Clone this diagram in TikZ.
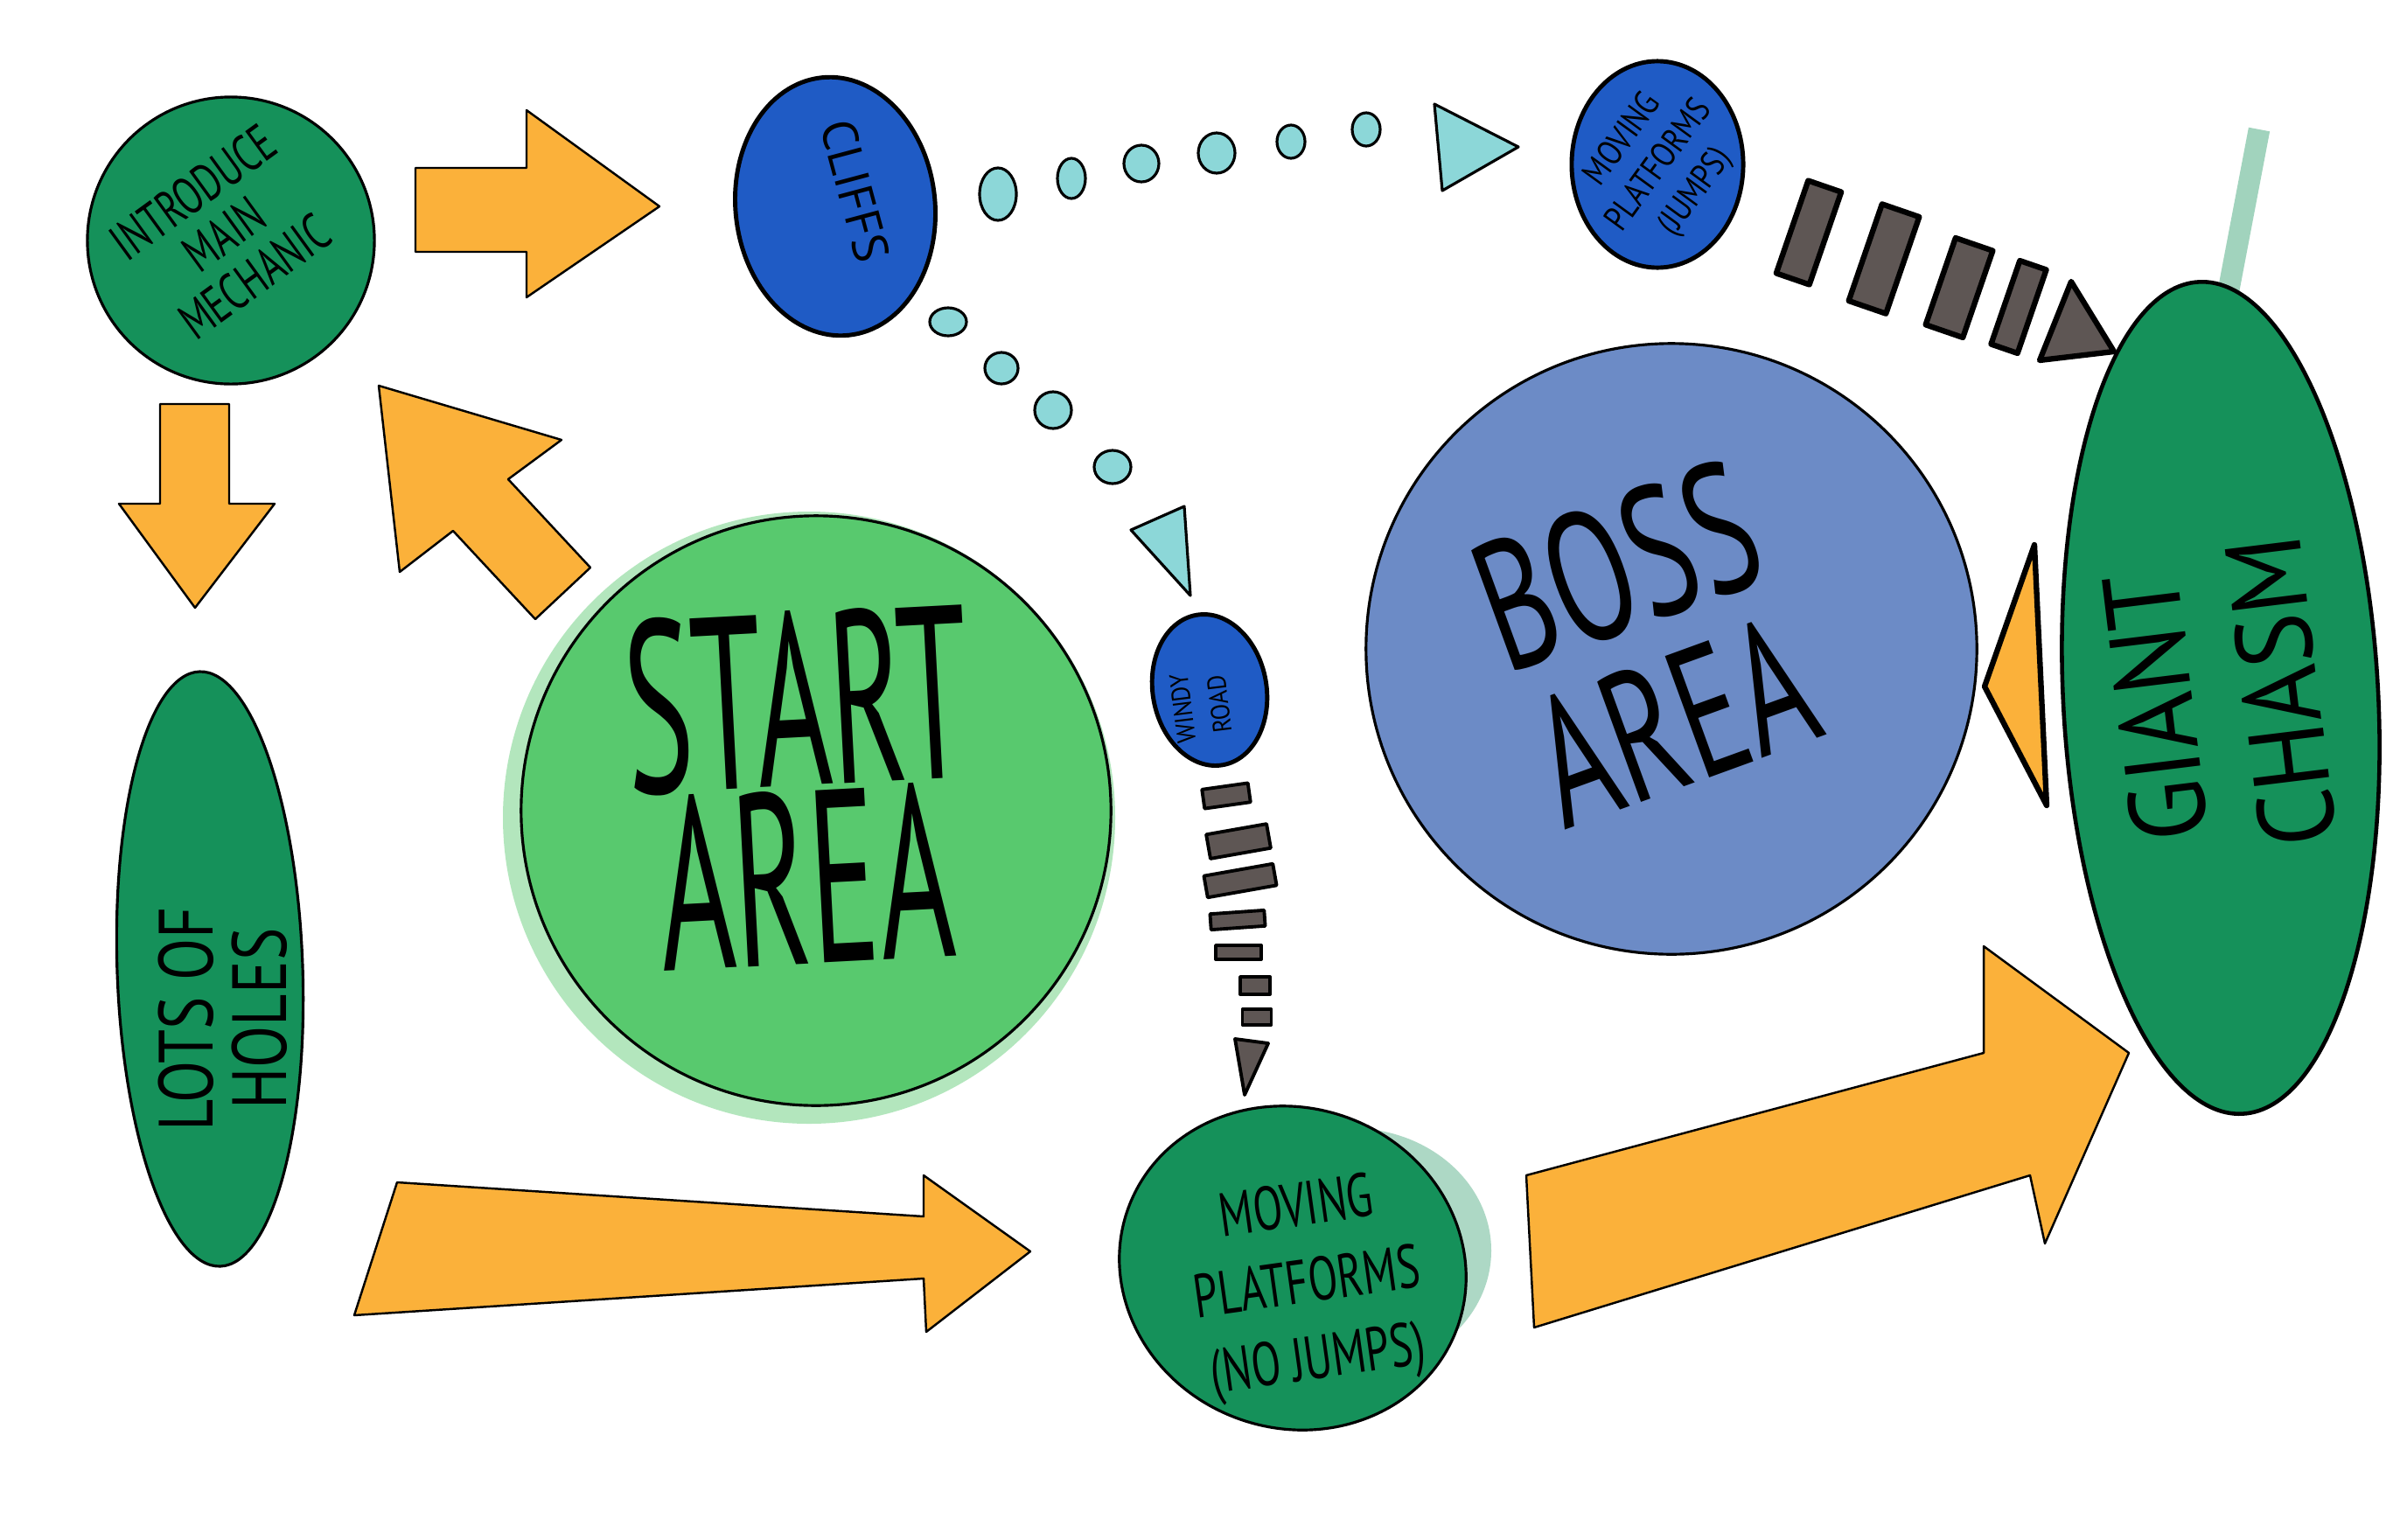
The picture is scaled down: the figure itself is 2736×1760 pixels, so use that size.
\documentclass[tikz,border=0pt]{standalone}
\usepackage{fontspec}
\setmainfont{PT Sans}
\usepackage{graphicx}
\usetikzlibrary{shapes.geometric}

\definecolor{zonegreen}{HTML}{15915A}
\definecolor{startgreen}{HTML}{58C96E}
\definecolor{cliffblue}{HTML}{1F5BC5}
\definecolor{bossblue}{HTML}{6C8BC6}
\definecolor{arroworange}{HTML}{FBB13A}
\definecolor{dotteal}{HTML}{8CD7D8}
\definecolor{bargray}{HTML}{5E5654}

\newcommand{\scrawlstack}[1]{\vbox{\let\\\cr\halign{\hfil##\hfil\cr#1\crcr}}}
\newcommand{\scrawl}[2]{\scalebox{#1}[1]{\scrawlstack{#2}}}

\begin{document}
\begin{tikzpicture}[x=0.01cm, y=-0.01cm,
  every node/.style={inner sep=0pt},
  zone/.style={draw, line width=0.9pt},
  spot/.style={draw, ellipse, line width=1.4pt, fill=cliffblue},
  hand/.style 2 args={font=\fontsize{#1}{#2}\selectfont},
  pebble/.style={draw, fill=dotteal, line width=0.9pt, line join=round},
  brick/.style={draw, fill=bargray, line width=#1, line join=round},
  fat/.style={draw, fill=arroworange, line width=0.7pt, line join=round}]

\useasboundingbox (0,0) rectangle (2736,1760);
\fill[white] (0,0) rectangle (2736,1760);
\fill[startgreen, opacity=0.45] (925,935) circle (350);
\fill[zonegreen, opacity=0.35] (1545,1430) ellipse (160 and 140);
\draw[line width=7pt, zonegreen!40] (2583,148) -- (2548,332);

\node[zone, circle, fill=zonegreen, minimum size=3.28cm] (intro) at (264,275) {};
\node[zone, ellipse, fill=zonegreen, minimum width=2.12cm, minimum height=6.8cm, rotate=2] (holes) at (240,1108) {};
\node[zone, circle, fill=startgreen, minimum size=6.74cm] (start) at (933,927) {};
\node[spot, minimum width=2.28cm, minimum height=2.96cm, rotate=6] (cliffs) at (955,236) {};
\node[spot, minimum width=1.96cm, minimum height=2.36cm] (jumps) at (1895,188) {};
\node[spot, minimum width=1.3cm, minimum height=1.74cm, rotate=10] (windy) at (1383,789) {};
\node[zone, ellipse, fill=zonegreen, minimum width=4cm, minimum height=3.66cm, rotate=-20] (nojumps) at (1478,1450) {};
\node[zone, circle, fill=bossblue, minimum size=6.98cm] (boss) at (1911,742) {};
\node[zone, ellipse, fill=zonegreen, line width=1.3pt, minimum width=3.6cm, minimum height=9.52cm, rotate=3] (chasm) at (2539,798) {};

\node[hand={17}{17}, rotate=36] (intro-t) at (256,268) {\scrawl{0.7}{INTRODUCE\\MAIN\\MECHANIC}};
\node[hand={25}{24}, rotate=90] (holes-t) at (255,1165) {\scrawl{0.8}{LOTS OF\\HOLES}};
\node[hand={80}{58}, rotate=3] (start-t) at (916,900) {\scrawl{0.52}{START\\AREA}};
\node[hand={16}{16}, rotate=-75] (cliffs-t) at (978,218) {CLIFFS};
\node[hand={11.5}{14.5}, rotate=54] (jumps-t) at (1898,190) {\scrawl{0.82}{MOVING\\PLATFORMS\\(JUMPS)}};
\node[hand={8.5}{12}, rotate=97] (windy-t) at (1373,808) {\scrawl{0.9}{WINDY\\ROAD}};
\node[hand={20}{25}, rotate=8] (nojumps-t) at (1495,1472) {\scrawl{0.7}{MOVING\\PLATFORMS\\(NO JUMPS)}};
\node[hand={60}{54}, rotate=20] (boss-t) at (1881,735) {\scrawl{0.66}{BOSS\\AREA}};
\node[hand={35}{41}, rotate=97] (chasm-t) at (2536,800) {\scrawl{0.92}{GIANT\\CHASM}};

\draw[fat] (475,192) -- (602,192) -- (602,126) -- (754,236) -- (602,340) -- (602,288) -- (475,288) -- cycle;
\draw[fat] (183,462) -- (262,462) -- (262,576) -- (314,576) -- (223,695) -- (136,576) -- (183,576) -- cycle;
\draw[fat] (433,441) -- (642,503) -- (581,548) -- (675,649) -- (612,708) -- (518,607) -- (457,654) -- cycle;
\draw[fat] (454,1352) -- (1056,1391) -- (1056,1344) -- (1178,1431) -- (1059,1523) -- (1056,1462) -- (405,1504) -- cycle;
\draw[fat] (1745,1344) -- (2268,1204) -- (2268,1082) -- (2434,1204) -- (2338,1422) -- (2321,1344) -- (1754,1518) -- cycle;
\draw[fat, line width=1.8pt] (2326,623) -- (2269,785) -- (2340,921) -- cycle;

\foreach \x/\y/\rx/\ry in {1141/222/21/30, 1225/204/16/23, 1305/187/20/21, 1391/175/21/23, 1476/162/16/19, 1562/148/16/19,
  1084/368/21/16, 1145/421/19/18, 1204/469/21/21, 1272/534/21/19}
  \draw[pebble] (\x,\y) ellipse ({\rx} and {\ry});
\draw[pebble] (1640,119) -- (1736,168) -- (1649,218) -- cycle;
\draw[pebble] (1293,606) -- (1354,579) -- (1361,681) -- cycle;

\foreach \x/\y/\w/\h/\r in {2068/266/40/112/-19, 2154/296/45/117/-19, 2240/329/45/105/-19, 2308/351/32/101/-19}
  \draw[brick=1.8pt, rotate around={\r:(\x,\y)}] ({\x-\w/2},{\y-\h/2}) rectangle ({\x+\w/2},{\y+\h/2});
\draw[brick=1.8pt] (2368,322) -- (2417,402) -- (2332,412) -- cycle;
\foreach \x/\y/\w/\h/\r in {1402/910/53/22/8, 1416/962/70/28/10, 1418/1007/80/25/10, 1415/1052/62/18/4,
  1416/1089/52/16/0, 1435/1127/34/20/0, 1437/1163/33/18/0}
  \draw[brick=1.1pt, rotate around={\r:(\x,\y)}] ({\x-\w/2},{\y-\h/2}) rectangle ({\x+\w/2},{\y+\h/2});
\draw[brick=1.1pt] (1412,1188) -- (1450,1193) -- (1423,1252) -- cycle;
\end{tikzpicture}
\end{document}
